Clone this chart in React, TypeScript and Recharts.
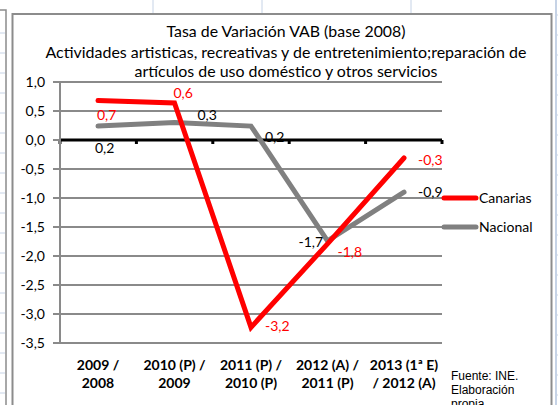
import React from 'react'
import {
  CartesianGrid,
  LabelList,
  Line,
  LineChart,
  ReferenceLine,
  XAxis,
  YAxis,
} from 'recharts'

const categories = [
  '2009 /\n2008',
  '2010 (P) /\n2009',
  '2011 (P) /\n2010 (P)',
  '2012 (A) /\n2011 (P)',
  '2013 (1ª E)\n/ 2012 (A)',
]
const canarias = [0.68, 0.64, -3.23, -1.79, -0.31]
const nacional = [0.24, 0.3, 0.24, -1.74, -0.9]
const yTicks = [1, 0.5, 0, -0.5, -1, -1.5, -2, -2.5, -3, -3.5]
const seriesNames = ['Canarias', 'Nacional']
const titleLines = [
  'Tasa de Variación VAB (base 2008)',
  'Actividades artisticas, recreativas y de entretenimiento;reparación de',
  'artículos de uso doméstico y otros servicios',
]
const sourceLines = ['Fuente: INE.', 'Elaboración', 'propia']

// Excel placed each data label by hand-ish; [dx, dy] from the point
const canariasLabelOffsets = [[-1, 19], [-1, -5], [14, 4], [10, 13], [14, 7]]
const nacionalLabelOffsets = [[-3, 27], [23, -3], [14, 16], [-29, 6], [14, 5]]

const data = categories.map((cat, i) => ({
  cat,
  canarias: canarias[i],
  nacional: nacional[i],
}))

const RED = '#ff0000'
const GREY = '#808080'
const GRID = '#8a8a8a'
const FONT = 'Lato, sans-serif'

const fmt = (v: number) => v.toFixed(1).replace('.', ',')

const makeLabel = (offsets: number[][], color: string) => (props: any) => {
  const { x, y, value, index } = props
  const [dx, dy] = offsets[index] ?? [0, -6]
  return (
    <text x={x + dx} y={y + dy} fill={color} fontSize={14} fontFamily={FONT}>
      {fmt(Number(value))}
    </text>
  )
}

const CategoryTick = (props: any) => {
  const { x, y, payload } = props
  const lines = String(payload.value).split('\n')
  return (
    <text
      x={x}
      y={y}
      textAnchor="middle"
      fontSize={14}
      fontWeight="bold"
      fontFamily={FONT}
      fill="#000"
    >
      {lines.map((l, i) => (
        <tspan key={i} x={x} dy={i === 0 ? 27 : 18}>
          {l}
        </tspan>
      ))}
    </text>
  )
}

const ZeroLine = (props: any) => {
  const { x1, y1, x2 } = props
  const n = categories.length
  const step = (x2 - x1) / n
  return (
    <g>
      <line x1={x1} y1={y1} x2={x2} y2={y1} stroke="#000" strokeWidth={3} />
      {Array.from({ length: n + 1 }, (_, i) => (
        <line
          key={i}
          x1={x1 + i * step}
          x2={x1 + i * step}
          y1={y1}
          y2={y1 + 4}
          stroke="#000"
          strokeWidth={3}
        />
      ))}
    </g>
  )
}

function Backdrop() {
  const rows = Array.from({ length: 21 }, (_, i) => 15 + i * 20)
  return (
    <svg
      width={558}
      height={405}
      style={{ position: 'absolute', left: 0, top: 0 }}
    >
      <rect width={558} height={405} fill="#fff" />
      {[153, 262, 411].map((x) => (
        <line key={x} x1={x} x2={x} y1={0} y2={13} stroke="#c6d3e6" />
      ))}
      <line x1={556} x2={556} y1={0} y2={405} stroke="#c6d3e6" strokeWidth={2} />
      {rows.map((y) => (
        <line key={'r' + y} x1={556} x2={558} y1={y} y2={y} stroke="#c6d3e6" />
      ))}
      {rows.map((y) => (
        <line key={'l' + y} x1={0} x2={5} y1={y + 18} y2={y + 18} stroke="#c6d3e6" />
      ))}
      <polyline points="0,10 6,10 6,405" fill="none" stroke="#8c8c8c" strokeWidth={1.5} />
      <rect x={12.5} y={14} width={539} height={400} fill="#fff" stroke="#8c8c8c" strokeWidth={2} />
    </svg>
  )
}

function Overlay() {
  const widths = [239, 481, 303]
  const baselines = [37, 57.5, 76.5]
  return (
    <svg
      width={558}
      height={405}
      style={{ position: 'absolute', left: 0, top: 0, pointerEvents: 'none' }}
    >
      {titleLines.map((t, i) => (
        <text
          key={i}
          x={286}
          y={baselines[i]}
          textAnchor="middle"
          fontSize={16}
          fontFamily={FONT}
          fill="#000"
          textLength={widths[i]}
          lengthAdjust="spacingAndGlyphs"
        >
          {t}
        </text>
      ))}
      {seriesNames.map((name, i) => (
        <g key={name}>
          <line
            x1={444}
            x2={476}
            y1={198 + i * 29}
            y2={198 + i * 29}
            stroke={i === 0 ? RED : GREY}
            strokeWidth={5}
            strokeLinecap="round"
          />
          <text x={479} y={203 + i * 29} fontSize={14} fontFamily={FONT} fill="#000">
            {name}
          </text>
        </g>
      ))}
      {sourceLines.map((s, i) => (
        <text
          key={s}
          x={451}
          y={380 + i * 14}
          fontSize={12}
          fontFamily="'Liberation Sans', Arial, sans-serif"
          fill="#000"
        >
          {s}
        </text>
      ))}
    </svg>
  )
}

export default function App() {
  return (
    <div
      style={{
        position: 'absolute',
        left: 0,
        top: 0,
        width: 558,
        height: 405,
        overflow: 'hidden',
      }}
    >
      <Backdrop />
      <div style={{ position: 'absolute', left: 0, top: 0 }}>
        <LineChart
          width={558}
          height={405}
          data={data}
          margin={{ top: 82, right: 116, bottom: 0, left: 0 }}
        >
          <CartesianGrid vertical={false} stroke={GRID} strokeWidth={2} />
          <XAxis
            dataKey="cat"
            height={62}
            padding={{ left: 38, right: 38 }}
            axisLine={false}
            tickLine={false}
            tickSize={0}
            tickMargin={0}
            interval={0}
            tick={<CategoryTick />}
          />
          <YAxis
            width={60}
            domain={[-3.5, 1]}
            ticks={yTicks}
            interval={0}
            tickFormatter={fmt}
            axisLine={{ stroke: GRID, strokeWidth: 2 }}
            tickLine={{ stroke: GRID, strokeWidth: 2 }}
            tickSize={7}
            tickMargin={8}
            tick={{ fill: '#000', fontSize: 14, fontFamily: FONT }}
          />
          <ReferenceLine y={0} shape={<ZeroLine />} />
          <Line
            type="linear"
            dataKey="nacional"
            name={seriesNames[1]}
            stroke={GREY}
            strokeWidth={5}
            strokeLinecap="round"
            dot={false}
            isAnimationActive={false}
          >
            <LabelList dataKey="nacional" content={makeLabel(nacionalLabelOffsets, '#000')} />
          </Line>
          <Line
            type="linear"
            dataKey="canarias"
            name={seriesNames[0]}
            stroke={RED}
            strokeWidth={5}
            strokeLinecap="round"
            dot={false}
            isAnimationActive={false}
          >
            <LabelList dataKey="canarias" content={makeLabel(canariasLabelOffsets, RED)} />
          </Line>
        </LineChart>
      </div>
      <Overlay />
    </div>
  )
}
